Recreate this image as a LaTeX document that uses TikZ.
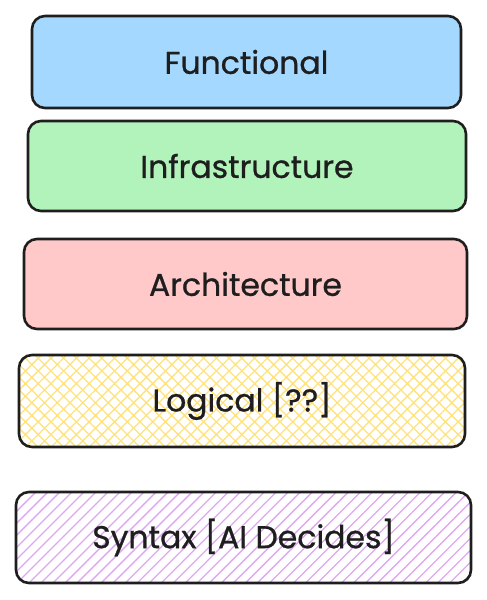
\documentclass[tikz,border=0pt]{standalone}
\usepackage{fontspec}
\setmainfont{Poppins}[FakeBold=0.8]
\usetikzlibrary{patterns.meta}
\definecolor{LayerBlue}{HTML}{A5D8FF}
\definecolor{LayerGreen}{HTML}{B2F2BB}
\definecolor{LayerRed}{HTML}{FFC9C9}
\definecolor{LayerYellow}{HTML}{FFE27A}
\definecolor{LayerPurple}{HTML}{DDA8F3}
\definecolor{EdgeInk}{HTML}{1E1E1E}

\begin{document}
\begin{tikzpicture}[x=1pt, y=-1pt,
        layer/.style={draw=EdgeInk, rounded corners=13pt, line width=2.6pt,
                      align=center, inner sep=0pt, text=EdgeInk,
                      font=\fontsize{31.5}{36}\selectfont},
        solid layer/.style={layer, fill=#1},
        hatched layer/.style={layer, fill=white,
                      pattern={Lines[angle=45, distance=8.5pt, line width=1.3pt]},
                      pattern color=#1},
        crossed layer/.style={layer, fill=white,
                      pattern={Hatch[angle=45, distance=9pt, line width=1.3pt]},
                      pattern color=#1}]

        \useasboundingbox (0, 0) rectangle (487, 600);

        % top three layers, plain fills
        \node[solid layer=LayerBlue, minimum width=429pt, minimum height=92pt]
              (func) at (246.5, 62) {Functional};
        \node[solid layer=LayerGreen, minimum width=438pt, minimum height=90pt]
              (infra) at (247, 166) {Infrastructure};
        \node[solid layer=LayerRed, minimum width=443pt, minimum height=90pt]
              (arch) at (245.5, 284) {Architecture};

        % lower two layers, hatched
        \node[crossed layer=LayerYellow, minimum width=446pt, minimum height=92pt]
              (logic) at (242, 401) {Logical [??]};
        \node[hatched layer=LayerPurple, minimum width=455pt, minimum height=91pt]
              (syntax) at (243.5, 537.5) {Syntax [AI Decides]};
\end{tikzpicture}
\end{document}
